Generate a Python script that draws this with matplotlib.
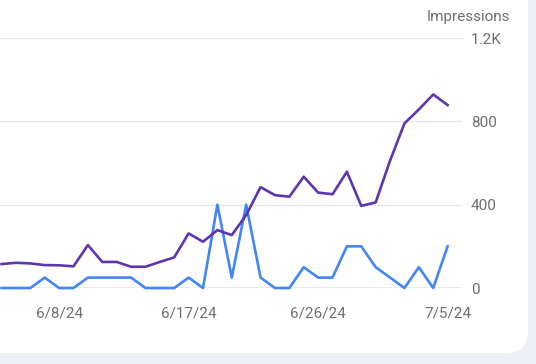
import matplotlib
matplotlib.use("Agg")
import matplotlib.pyplot as plt
import matplotlib.dates as mdates
from matplotlib.patches import FancyBboxPatch
import pandas as pd

plt.rcParams['font.family'] = ['Roboto', 'DejaVu Sans']

# data (6/4/24 .. 7/5/24)
dates = pd.date_range("2024-06-04", "2024-07-05", freq="D")
impressions = [115, 121, 118, 110, 109, 104, 206, 125, 125, 102,
               102, 125, 147, 262, 222, 278, 254, 350, 484, 446,
               438, 534, 458, 450, 558, 394, 411, 611, 790, 857,
               929, 878]
clicks = [0, 0, 0, 50, 0, 0, 50, 50, 50, 50,
          0, 0, 0, 50, 0, 400, 50, 400, 50, 0,
          0, 100, 50, 50, 200, 200, 100, 50, 0, 100,
          0, 200]
y_ticks = [0, 400, 800, 1200]
y_labels = ["0", "400", "800", "1.2K"]
x_ticks = ["2024-06-08", "2024-06-17", "2024-06-26", "2024-07-05"]

W, H = 536, 364
fig = plt.figure(figsize=(W / 100, H / 100), dpi=100)
fig.patch.set_facecolor("#edf1f7")

# card background with rounded bottom-right corner
bg = fig.add_axes([0, 0, 1, 1])
bg.set_xlim(0, W)
bg.set_ylim(H, 0)
bg.axis("off")
bg.add_patch(FancyBboxPatch((-60, -60), 588, 413,
                            boxstyle="round,pad=0,rounding_size=22",
                            fc="white", ec="none"))

ax = fig.add_axes([0, (H - 288) / H, 462 / W, 250 / H])
ax.set_facecolor("none")

ax.plot(dates, clicks, color="#4285f4", lw=1.9, clip_on=False, zorder=3)
ax.plot(dates, impressions, color="#5e35b1", lw=1.9, clip_on=False, zorder=4)

ax.set_ylim(0, 1200)
ax.set_xlim(dates[0] - pd.Timedelta(hours=2.6), dates[-1] + pd.Timedelta(days=1))

for v in y_ticks[1:]:
    ax.axhline(v, color="#e6e6e6", lw=1, zorder=1)
ax.axhline(0, color="#9e9e9e", lw=1, zorder=2)

for s in ax.spines.values():
    s.set_visible(False)

ax.yaxis.tick_right()
ax.set_yticks(y_ticks)
ax.set_yticklabels(y_labels)
ax.set_xticks(pd.to_datetime(x_ticks))
ax.xaxis.set_major_formatter(mdates.DateFormatter("%-m/%-d/%y"))
ax.tick_params(axis="y", length=0, pad=6.5, labelsize=11, labelcolor="#6f6f6f")
ax.tick_params(axis="x", length=0, pad=13, labelsize=11, labelcolor="#6f6f6f")

fig.text(510 / W, 1 - 17 / H, "Impressions", ha="right", va="center",
         fontsize=11, color="#6f6f6f")

fig.savefig("out.png", dpi=100)
